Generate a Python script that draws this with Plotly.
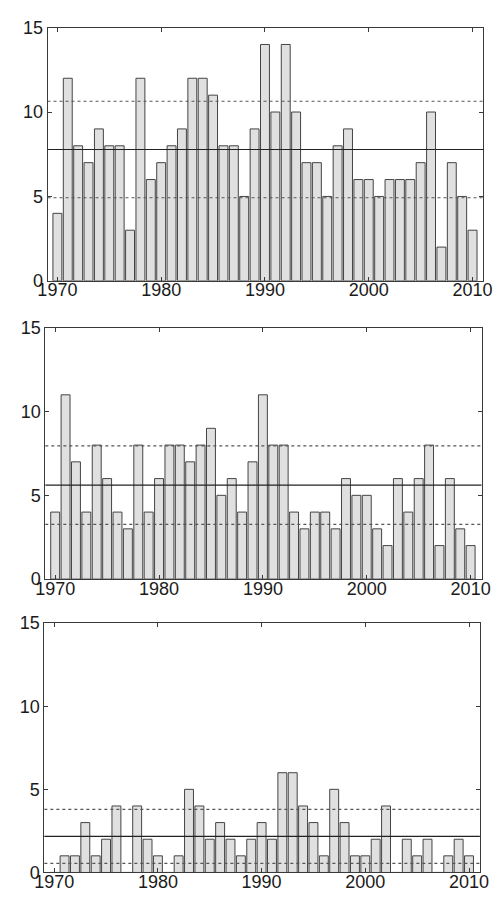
import numpy as np
import plotly.graph_objects as go

# Annual counts, 1970-2010, for three series
years = list(range(1970, 2011))

counts_top = [4, 12, 8, 7, 9, 8, 8, 3, 12, 6,
              7, 8, 9, 12, 12, 11, 8, 8, 5, 9,
              14, 10, 14, 10, 7, 7, 5, 8, 9, 6,
              6, 5, 6, 6, 6, 7, 10, 2, 7, 5, 3]

counts_mid = [4, 11, 7, 4, 8, 6, 4, 3, 8, 4,
              6, 8, 8, 7, 8, 9, 5, 6, 4, 7,
              11, 8, 8, 4, 3, 4, 4, 3, 6, 5,
              5, 3, 2, 6, 4, 6, 8, 2, 6, 3, 2]

counts_low = [0, 1, 1, 3, 1, 2, 4, 0, 4, 2,
              1, 0, 1, 5, 4, 2, 3, 2, 1, 2,
              3, 2, 6, 6, 4, 3, 1, 5, 3, 1,
              1, 2, 4, 0, 2, 1, 2, 0, 1, 2, 1]

x_ticks = [1970, 1980, 1990, 2000, 2010]
y_ticks = [0, 5, 10, 15]

W, H = 504, 903
# panel boxes in pixels: (left, right, top, bottom)
boxes = [(39, 492, 18, 277), (36.7, 490, 325, 582), (35.7, 488.3, 627, 882)]
series = [counts_top, counts_mid, counts_low]

fig = go.Figure()
layout = dict(
    width=W, height=H, margin=dict(l=0, r=0, t=0, b=0),
    paper_bgcolor="white", plot_bgcolor="white", showlegend=False,
    font=dict(family="Liberation Sans, Arial, sans-serif", size=18, color="#1a1a1a"),
    bargap=0.15,
)
shapes = []

for i, (vals, (l, r, t, b)) in enumerate(zip(series, boxes), start=1):
    xa = "x" if i == 1 else f"x{i}"
    ya = "y" if i == 1 else f"y{i}"
    fig.add_trace(go.Bar(
        x=years, y=vals, xaxis=xa, yaxis=ya, width=0.86,
        marker=dict(color="#e0e0e0", line=dict(color="#444444", width=1)),
        hoverinfo="x+y",
    ))
    arr = np.array(vals, dtype=float)
    mean = arr.mean()
    std = arr.std(ddof=1)
    for yv, dash, col in [(mean, "solid", "#222222"),
                          (mean + std, "dot", "#555555"),
                          (mean - std, "dot", "#555555")]:
        shapes.append(dict(type="line", xref=f"{xa} domain", yref=ya,
                           x0=0, x1=1, y0=yv, y1=yv,
                           line=dict(color=col, width=1.1, dash=dash)))
    axis_common = dict(showline=True, linecolor="#3a3a3a", linewidth=1,
                       mirror="ticks", ticks="inside", ticklen=4,
                       tickcolor="#3a3a3a", showgrid=False, zeroline=False)
    layout["xaxis" if i == 1 else f"xaxis{i}"] = dict(
        domain=[l / W, r / W], range=[1969.05, 2011.05],
        tickvals=x_ticks, anchor=ya, ticklabelstandoff=-7, **axis_common)
    layout["yaxis" if i == 1 else f"yaxis{i}"] = dict(
        domain=[(H - b) / H, (H - t) / H], range=[0, 15],
        tickvals=y_ticks, anchor=xa, **axis_common)

layout["shapes"] = shapes
fig.update_layout(**layout)
fig.write_html("out.html")
